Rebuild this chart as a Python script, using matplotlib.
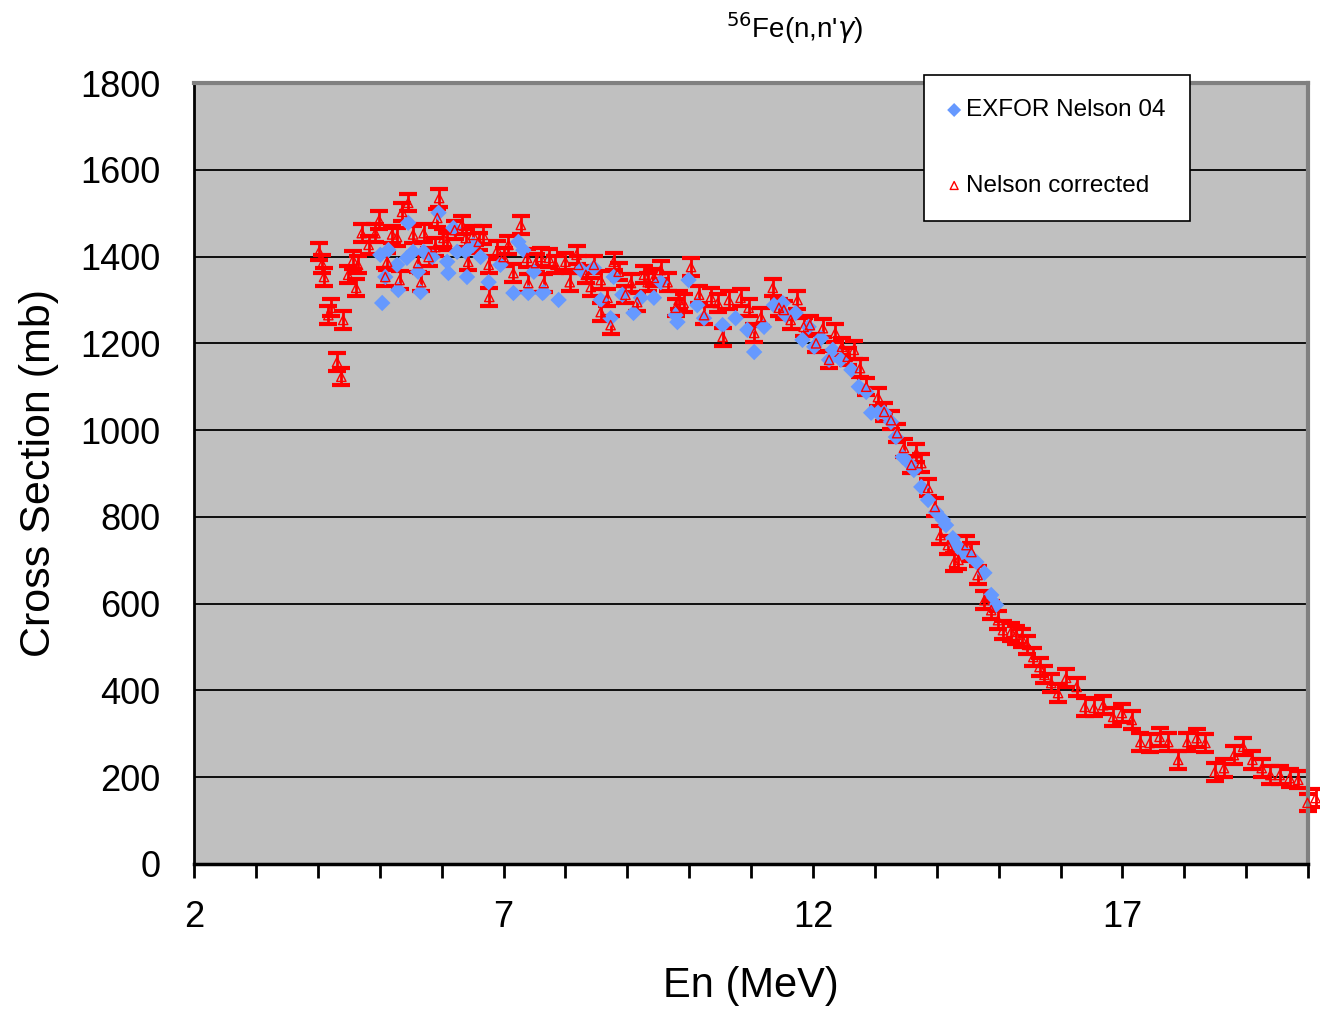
import matplotlib
matplotlib.use("Agg")
import matplotlib.pyplot as plt
from matplotlib.ticker import MultipleLocator

plt.rcParams['font.family'] = ['Liberation Sans', 'DejaVu Sans']

# === DADOS ===
# EXFOR Nelson 04 (MeV, mb)
exfor_en = [5.01, 5.04, 5.09, 5.14, 5.28, 5.30, 5.44, 5.46, 5.54, 5.62, 5.66, 5.71,
            5.85, 5.95, 6.09, 6.11, 6.19, 6.25, 6.39, 6.41, 6.51, 6.63, 6.76, 6.95,
            7.16, 7.24, 7.32, 7.40, 7.49, 7.63, 7.65, 7.89, 8.25, 8.46, 8.57, 8.73,
            8.78, 8.92, 9.10, 9.22, 9.43, 9.54, 9.78, 9.81, 9.99, 10.13, 10.24, 10.54,
            10.75, 10.94, 11.05, 11.21, 11.37, 11.51, 11.56, 11.72, 11.83, 11.93, 12.02,
            12.13, 12.26, 12.32, 12.45, 12.62, 12.74, 12.86, 12.94, 13.05, 13.15, 13.26,
            13.34, 13.45, 13.55, 13.63, 13.75, 13.86, 13.99, 14.10, 14.15, 14.26, 14.32,
            14.42, 14.52, 14.64, 14.77, 14.88, 14.96]
exfor_xs = [1404, 1293, 1353, 1415, 1381, 1323, 1397, 1478, 1411, 1365, 1318, 1411,
            1399, 1501, 1388, 1362, 1466, 1411, 1411, 1353, 1427, 1399, 1341, 1381,
            1316, 1434, 1415, 1316, 1365, 1316, 1318, 1300, 1369, 1374, 1300, 1258,
            1353, 1312, 1270, 1305, 1305, 1341, 1265, 1249, 1346, 1288, 1258, 1242,
            1258, 1231, 1180, 1238, 1288, 1293, 1265, 1270, 1208, 1238, 1192,
            1212, 1162, 1185, 1162, 1139, 1100, 1088, 1040, 1040, 1040, 1019,
            984, 938, 924, 908, 869, 839, 811, 793, 781, 751, 735,
            719, 712, 696, 671, 620, 597]

# Nelson corrected (MeV, mb)
corr_en = [4.02, 4.07, 4.10, 4.17, 4.22, 4.31, 4.38, 4.41, 4.49, 4.57, 4.62, 4.65,
           4.71, 4.82, 4.93, 4.99, 5.09, 5.12, 5.20, 5.28, 5.32, 5.36, 5.46, 5.54,
           5.62, 5.67, 5.71, 5.79, 5.90, 5.93, 5.96, 6.03, 6.09, 6.21, 6.33, 6.39,
           6.43, 6.51, 6.60, 6.67, 6.76, 6.77, 6.90, 7.00, 7.08, 7.16, 7.28, 7.38,
           7.40, 7.52, 7.60, 7.65, 7.73, 7.84, 8.00, 8.07, 8.18, 8.21, 8.33, 8.41,
           8.46, 8.57, 8.57, 8.68, 8.73, 8.78, 8.86, 8.97, 9.06, 9.16, 9.27, 9.33,
           9.43, 9.54, 9.65, 9.78, 9.83, 9.91, 10.03, 10.16, 10.24, 10.35, 10.46, 10.54,
           10.64, 10.83, 10.96, 11.05, 11.16, 11.35, 11.45, 11.53, 11.64, 11.75, 11.85,
           11.95, 12.05, 12.16, 12.26, 12.36, 12.47, 12.56, 12.66, 12.76, 12.86, 13.05,
           13.15, 13.26, 13.36, 13.47, 13.59, 13.67, 13.75, 13.86, 13.97, 14.06, 14.18,
           14.28, 14.35, 14.48, 14.56, 14.66, 14.77, 14.88, 14.99, 15.07, 15.20, 15.28,
           15.37, 15.46, 15.56, 15.66, 15.74, 15.85, 15.96, 16.09, 16.26, 16.39, 16.54,
           16.69, 16.85, 16.99, 17.15, 17.29, 17.44, 17.60, 17.74, 17.90, 18.05, 18.20,
           18.34, 18.49, 18.64, 18.80, 18.95, 19.10, 19.25, 19.39, 19.54, 19.70, 19.84,
           19.99, 20.12]
corr_xs = [1411, 1383, 1353, 1265, 1282, 1157, 1123, 1254, 1358, 1392, 1328, 1381,
           1454, 1427, 1454, 1484, 1353, 1388, 1451, 1445, 1346, 1503, 1524, 1451,
           1385, 1341, 1454, 1399, 1422, 1489, 1535, 1443, 1434, 1461, 1473, 1443,
           1388, 1450, 1434, 1450, 1381, 1307, 1415, 1399, 1427, 1362, 1473, 1397,
           1339, 1385, 1399, 1339, 1397, 1381, 1388, 1341, 1404, 1381, 1358, 1330,
           1381, 1346, 1272, 1305, 1242, 1388, 1365, 1312, 1339, 1295, 1358, 1341,
           1351, 1369, 1341, 1282, 1300, 1293, 1376, 1312, 1265, 1307, 1293, 1215,
           1300, 1305, 1282, 1224, 1261, 1328, 1282, 1277, 1254, 1300, 1238,
           1242, 1200, 1235, 1162, 1224, 1192, 1169, 1185, 1143, 1100, 1076,
           1042, 1023, 993, 959, 920, 947, 924, 867, 823, 758, 735,
           696, 701, 735, 719, 666, 608, 585, 562, 539, 535, 528,
           521, 505, 477, 454, 436, 417, 394, 429, 408, 362, 360,
           366, 339, 348, 332, 281, 279, 293, 281, 240, 281, 290,
           279, 212, 221, 251, 270, 240, 221, 205, 205, 198, 194,
           141, 152]
corr_err = 20  # mb

# === FIGURA ===
fig = plt.figure(figsize=(13.2, 10.1), dpi=100)
ax = fig.add_axes([0.147, 0.1446, 0.844, 0.7732])
ax.set_facecolor('#C0C0C0')

ax.errorbar(corr_en, corr_xs, yerr=corr_err, fmt='none', ecolor='#FF0000',
            elinewidth=2, capsize=6.5, capthick=3, zorder=2, clip_on=False)
ax.scatter(exfor_en, exfor_xs, marker='D', s=70, color='#6699FF', edgecolors='none',
           zorder=3, label='EXFOR Nelson 04')
ax.scatter(corr_en, corr_xs, marker='^', s=45, facecolors='none', edgecolors='#FF0000',
           linewidths=1, zorder=4, label='Nelson corrected', clip_on=False)

ax.set_xlim(2, 20)
ax.set_ylim(0, 1800)
ax.xaxis.set_minor_locator(MultipleLocator(1))
ax.set_xticks([2, 7, 12, 17])
ax.yaxis.set_major_locator(MultipleLocator(200))
ax.grid(axis='y', color='black', linewidth=1.3)
ax.set_axisbelow(True)

ax.tick_params(axis='x', which='both', direction='out', length=10, width=2,
               labelsize=26, pad=16)
ax.tick_params(axis='y', length=0, labelsize=26, pad=24)
for s in ['top', 'right']:
    ax.spines[s].set_color('#808080')
    ax.spines[s].set_linewidth(3)
ax.spines['left'].set_color('black')
ax.spines['left'].set_linewidth(2)
ax.spines['bottom'].set_color('black')
ax.spines['bottom'].set_linewidth(2.5)

ax.set_xlabel('En (MeV)', fontsize=30, labelpad=22)
ax.set_ylabel('Cross Section (mb)', fontsize=31, labelpad=15)

fig.text(0.602, 0.972, r"$^{56}$Fe(n,n'$\gamma$)", fontsize=20, ha='center', va='center')

leg = ax.legend(loc='upper left', bbox_to_anchor=(0.655, 1.0102), borderaxespad=0,
                frameon=True, fancybox=False, edgecolor='black', facecolor='white',
                framealpha=1, fontsize=17.5, labelspacing=2.2, handlelength=0.5,
                handletextpad=0.25, borderpad=1.0, markerscale=0.85)
leg.get_frame().set_linewidth(1.2)

fig.savefig('out.png', dpi=100)
